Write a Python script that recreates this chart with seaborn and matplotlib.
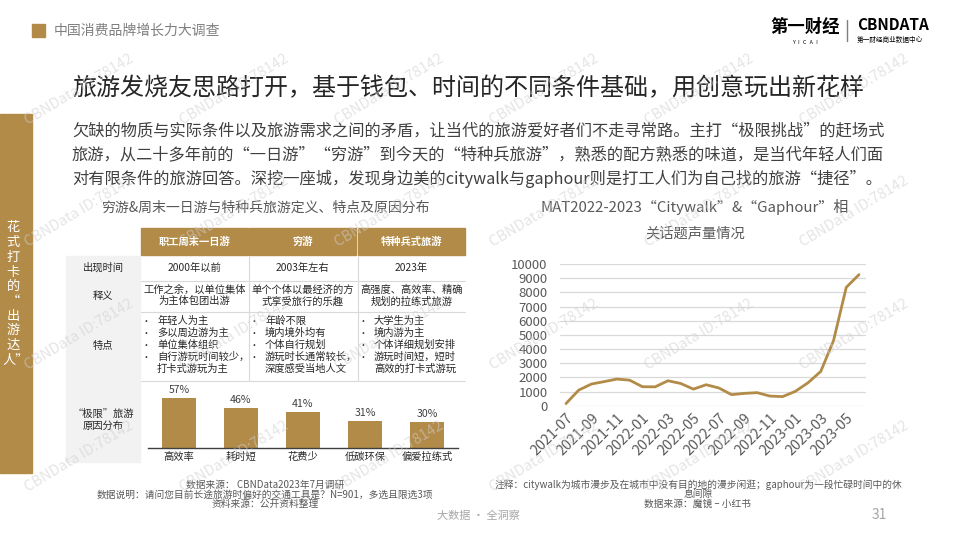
import matplotlib
matplotlib.use('Agg')
import matplotlib.pyplot as plt
from matplotlib.patches import Rectangle
import seaborn as sns

sns.set_theme(style='white')
plt.rcParams['font.family'] = ['Noto Sans CJK SC', 'DejaVu Sans']

GOLD = '#b38b48'
DARK = '#262626'
GREY = '#595959'

# ---- data ----
columns = ['职工周末一日游', '穷游', '特种兵式旅游']
row_labels = ['出现时间', '释义', '特点', '“极限”旅游\n原因分布']
appear_time = ['2000年以前', '2003年左右', '2023年']
meaning = ['工作之余，以单位集体\n为主体包团出游',
           '单个个体以最经济的方\n式享受旅行的乐趣',
           '高强度、高效率、精确\n规划的拉练式旅游']
features = [
    ['年轻人为主', '多以周边游为主', '单位集体组织', '自行游玩时间较少，', '打卡式游玩为主'],
    ['年龄不限', '境内境外均有', '个体自行规划', '游玩时长通常较长，', '深度感受当地人文'],
    ['大学生为主', '境内游为主', '个体详细规划安排', '游玩时间短，短时', '高效的打卡式游玩'],
]
reasons = ['高效率', '耗时短', '花费少', '低碳环保', '偏爱拉练式']
reason_pct = [57, 46, 41, 31, 30]

months = ['2021-07', '2021-08', '2021-09', '2021-10', '2021-11', '2021-12',
          '2022-01', '2022-02', '2022-03', '2022-04', '2022-05', '2022-06',
          '2022-07', '2022-08', '2022-09', '2022-10', '2022-11', '2022-12',
          '2023-01', '2023-02', '2023-03', '2023-04', '2023-05', '2023-06']
volume = [150, 1100, 1530, 1700, 1880, 1800, 1340, 1330, 1760, 1570, 1170, 1480,
          1250, 780, 870, 920, 680, 640, 1010, 1620, 2420, 4590, 8350, 9250]

fig = plt.figure(figsize=(9.6, 5.4), dpi=100)
fig.patch.set_facecolor('white')

canvas = fig.add_axes([0, 0, 1, 1])
canvas.set_xlim(0, 960)
canvas.set_ylim(540, 0)
canvas.axis('off')


def box(x, y, w, h):
    return [x / 960, 1 - (y + h) / 540, w / 960, h / 540]


# header strip
canvas.add_patch(Rectangle((32, 24), 13, 13, color=GOLD))
canvas.text(54, 31, '中国消费品牌增长力大调查', fontsize=10, color='#7f7f7f', va='center')

# logo
canvas.text(805, 27, '第一财经', fontsize=12.5, fontweight='heavy', color='black', ha='center', va='center')
canvas.text(805, 42, 'Y   I   C   A   I', fontsize=3.8, color='black', ha='center', va='center')
canvas.plot([847, 847], [20, 41], color='#7f7f7f', lw=1)
canvas.text(857, 25, 'CBNDATA', fontsize=11, fontweight='bold', color='black', ha='left', va='center')
canvas.text(857, 40, '第一财经商业数据中心', fontsize=4.8, color='black', ha='left', va='center')

# title and paragraph
canvas.text(72, 88, '旅游发烧友思路打开，基于钱包、时间的不同条件基础，用创意玩出新花样',
            fontsize=17.3, color=DARK, va='center')
para = ['欠缺的物质与实际条件以及旅游需求之间的矛盾，让当代的旅游爱好者们不走寻常路。主打“极限挑战”的赶场式',
        '旅游，从二十多年前的“一日游”“穷游”到今天的“特种兵旅游”，熟悉的配方熟悉的味道，是当代年轻人们面',
        '对有限条件的旅游回答。深挖一座城，发现身边美的citywalk与gaphour则是打工人们为自己找的旅游“捷径”。']
for i, line in enumerate(para):
    canvas.text(72, 131 + i * 24, line, fontsize=11.7, color='#404040', va='center')

# left side bar
canvas.add_patch(Rectangle((0, 114), 32, 359, color=GOLD))
side = ['花', '式', '打', '卡', '的', '“', '出', '游', '达', '人”']
for i, ch in enumerate(side):
    canvas.text(13 if i < 9 else 16, 228 + i * 14.7, ch, fontsize=9.5, color='white',
                ha='center', va='center')

# ---- table ----
canvas.text(266, 208, '穷游&周末一日游与特种兵旅游定义、特点及原因分布', fontsize=10, color=GREY,
            ha='center', va='center')
col_x = [141, 249, 358]
col_w = 107
rows_y = [(256, 24), (281, 30), (312, 68), (381, 81)]

for i, name in enumerate(columns):
    canvas.add_patch(Rectangle((col_x[i], 228), col_w, 27, color=GOLD))
    canvas.text(col_x[i] + col_w / 2, 241.5, name, fontsize=7.4, fontweight='bold', color='white',
                ha='center', va='center')

for (y, h), lab in zip(rows_y, row_labels):
    canvas.add_patch(Rectangle((66, y), 74, h, color='#f2f2f2'))
    canvas.text(103, y + h / 2 - (2 if '\n' in lab else 0), lab, fontsize=7.4, color=DARK,
                ha='center', va='center', linespacing=1.25)

for yy in [280.5, 311.5, 380.5]:
    canvas.plot([141, 465], [yy, yy], color='#d9d9d9', lw=0.8)
for xx in [248.5, 357.5]:
    canvas.plot([xx, xx], [256, 380], color='#d9d9d9', lw=0.8)

for i in range(3):
    cx = col_x[i] + col_w / 2
    canvas.text(cx, 268, appear_time[i], fontsize=7.4, color=DARK, ha='center', va='center')
    canvas.text(cx, 295.5, meaning[i], fontsize=7.4, color=DARK, ha='center', va='center', linespacing=1.2)
    for j, item in enumerate(features[i]):
        yy = 321 + j * 12
        if j < 4:
            canvas.text(col_x[i] + 5, yy, '•', fontsize=6.5, color=DARK, ha='center', va='center')
        canvas.text(col_x[i] + 16, yy, item, fontsize=7.4, color=DARK, ha='left', va='center')

# bar chart inside the last row
axb = fig.add_axes(box(148, 390, 310, 58))
axb.set_facecolor('none')
sns.barplot(x=reasons, y=reason_pct, color=GOLD, saturation=1, width=0.55, linewidth=0, ax=axb)
axb.bar_label(axb.containers[0], labels=[f'{v}%' for v in reason_pct], padding=2,
              fontsize=7.6, color='#404040')
axb.set_ylim(0, 66)
axb.set_xlim(-0.5, 4.5)
axb.set_yticks([])
axb.set_xlabel('')
axb.set_ylabel('')
axb.tick_params(axis='x', length=0, pad=3, labelsize=7.4, labelcolor=DARK)
for s in ['top', 'right', 'left']:
    axb.spines[s].set_visible(False)
axb.spines['bottom'].set_color('#404040')
axb.spines['bottom'].set_linewidth(1)

notes_left = ['数据来源： CBNData2023年7月调研',
              '数据说明：请问您目前长途旅游时偏好的交通工具是？N=901，多选且限选3项',
              '资料来源：公开资料整理']
for i, t in enumerate(notes_left):
    canvas.text(265, 485 + i * 9.5, t, fontsize=7, color=GREY, ha='center', va='center')

# ---- line chart ----
canvas.text(695, 207, 'MAT2022-2023“Citywalk”&“Gaphour”相', fontsize=10.8, color=GREY,
            ha='center', va='center')
canvas.text(695, 233, '关话题声量情况', fontsize=10.3, color=GREY, ha='center', va='center')

axl = fig.add_axes(box(560, 264, 306, 141.7))
axl.set_facecolor('none')
sns.lineplot(x=list(range(len(volume))), y=volume, color=GOLD, linewidth=2, ax=axl)
axl.set_ylim(0, 10000)
axl.set_xlim(-0.47, 23.55)
axl.set_yticks(range(0, 10001, 1000))
axl.set_xticks(range(0, len(months), 2))
axl.set_xticklabels(months[::2], rotation=45, ha='right', rotation_mode='anchor')
axl.tick_params(axis='y', length=0, pad=9, labelsize=9.5, labelcolor=GREY)
axl.tick_params(axis='x', length=0, pad=4, labelsize=10.3, labelcolor=GREY)
axl.grid(axis='y', color='#d9d9d9', linewidth=0.9)
axl.grid(axis='x', visible=False)
for s in axl.spines.values():
    s.set_visible(False)

notes_right = ['注释：citywalk为城市漫步及在城市中没有目的地的漫步闲逛；gaphour为一段忙碌时间中的休',
               '息间隙', '数据来源：魔镜 – 小红书']
for i, t in enumerate(notes_right):
    canvas.text(698, 485 + i * 9.5, t, fontsize=7, color=GREY, ha='center', va='center')

# footer
canvas.text(478, 516, '大数据 · 全洞察', fontsize=8, color='#a6a6a6', ha='center', va='center')
canvas.text(879, 515, '31', fontsize=10, color='#a6a6a6', ha='center', va='center')

# watermark, only the copies that fit inside the page
for i in range(-1, 7):
    for j in range(-2, 4):
        x = 28 + 155 * i
        y = 247 + 122.5 * j
        if x < 0 or x + 118 > 960 or y - 78 < 0 or y + 4 > 540:
            continue
        fig.text(x / 960, 1 - y / 540, 'CBNData ID:78142', rotation=31, rotation_mode='anchor',
                 ha='left', va='baseline', fontsize=10.5, color='#cfcfcf', alpha=0.55, zorder=10)

fig.savefig('out.png', dpi=100, facecolor='white')
